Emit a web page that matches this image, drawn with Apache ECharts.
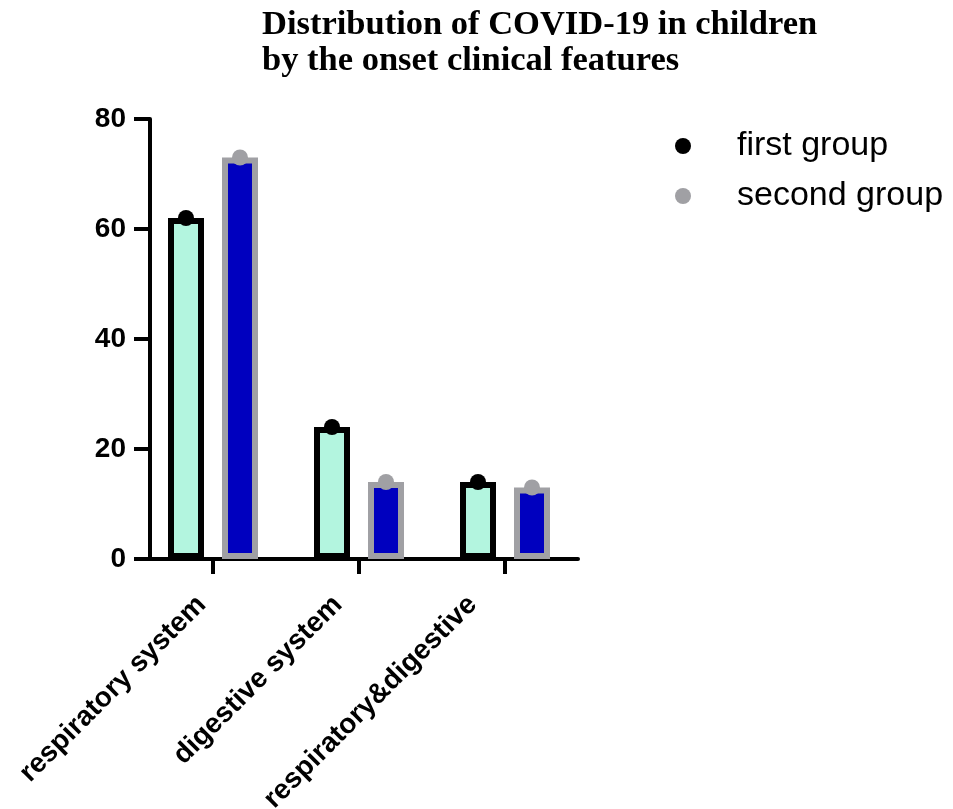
<!DOCTYPE html>
<html>
<head>
<meta charset="utf-8">
<script src="https://cdn.jsdelivr.net/npm/echarts@6/dist/echarts.min.js"></script>
<style>
  html, body { margin: 0; padding: 0; background: #fff; }
  #chart { width: 953px; height: 809px; }
</style>
</head>
<body>
<div id="chart"></div>
<script>
// Onset clinical features (categories)
var categories = ['respiratory system', 'digestive system', 'respiratory&digestive'];
// Number of children per group
var firstGroup = [62, 24, 14];
var secondGroup = [73, 14, 13];
// Y axis ticks
var yTicks = { min: 0, max: 80, step: 20 };
var groupNames = ['first group', 'second group'];

var MINT = '#b3f5df', BLUE = '#0000bf', GREY = '#a0a0a4', INK = '#000';
var barW = 36, barGap = '50%';
// Per-label nudge of the rotated category labels: right padding and line height
var labelPadRight = [16, 23, 31];
var labelLineHeight = [32, 14, 30];

var chart = echarts.init(document.getElementById('chart'), null, { renderer: 'canvas' });

function barSeries(values, fill, border) {
  return {
    type: 'bar',
    name: '_bar',
    data: values,
    barWidth: barW,
    barGap: barGap,
    itemStyle: { color: fill, borderColor: border, borderWidth: 6 },
    z: 2,
    silent: true
  };
}
function dotSeries(name, values, color) {
  return {
    type: 'pictorialBar',
    name: name,
    data: values,
    barWidth: barW,
    barGap: barGap,
    symbol: 'circle',
    symbolSize: [16, 16],
    symbolPosition: 'end',
    symbolOffset: [0, '-50%'],
    itemStyle: { color: color },
    z: 5,
    silent: true
  };
}

chart.setOption({
  animation: false,
  backgroundColor: '#fff',
  title: {
    text: 'Distribution of COVID-19 in children\nby the onset clinical features',
    left: 257,
    top: 2,
    textStyle: {
      fontFamily: '"Liberation Serif", "Times New Roman", serif',
      fontWeight: 'bold',
      fontSize: 34.5,
      lineHeight: 36,
      color: INK
    }
  },
  legend: {
    data: groupNames.map(function (n) { return { name: n, icon: 'circle' }; }),
    orient: 'vertical',
    left: 670,
    top: 124,
    itemWidth: 16,
    itemHeight: 16,
    itemGap: 16,
    textStyle: {
      fontFamily: '"Liberation Sans", Arial, sans-serif',
      fontSize: 34,
      color: INK,
      padding: [0, 0, 0, 41]
    }
  },
  grid: { left: 140, top: 119, width: 438, height: 440, containLabel: false, outerBoundsMode: 'none' },
  xAxis: {
    type: 'category',
    data: categories.map(function (c, i) {
      return { value: c, textStyle: { padding: [0, labelPadRight[i], 0, 0], lineHeight: labelLineHeight[i] } };
    }),
    axisLine: { show: true, lineStyle: { color: INK, width: 4 } },
    axisTick: { show: true, alignWithLabel: true, length: 15, lineStyle: { color: INK, width: 4 } },
    axisLabel: {
      rotate: 45,
      margin: 30,
      interval: 0,
      // an empty second line lifts the label along its own normal
      formatter: function (v, i) { return i > 0 ? v + '\n ' : v; },
      fontFamily: '"Liberation Sans", Arial, sans-serif',
      fontWeight: 'bold',
      fontSize: 28,
      color: INK
    }
  },
  yAxis: {
    type: 'value',
    min: yTicks.min,
    max: yTicks.max,
    interval: yTicks.step,
    offset: -10,
    splitLine: { show: false },
    axisLine: { show: true, lineStyle: { color: INK, width: 4 } },
    axisTick: { show: true, length: 16, lineStyle: { color: INK, width: 4 } },
    axisLabel: {
      margin: 24,
      fontFamily: '"Liberation Sans", Arial, sans-serif',
      fontWeight: 'bold',
      fontSize: 28,
      color: INK
    }
  },
  series: [
    barSeries(firstGroup, MINT, INK),
    barSeries(secondGroup, BLUE, GREY),
    dotSeries(groupNames[0], firstGroup, INK),
    dotSeries(groupNames[1], secondGroup, GREY)
  ]
});
</script>
</body>
</html>
